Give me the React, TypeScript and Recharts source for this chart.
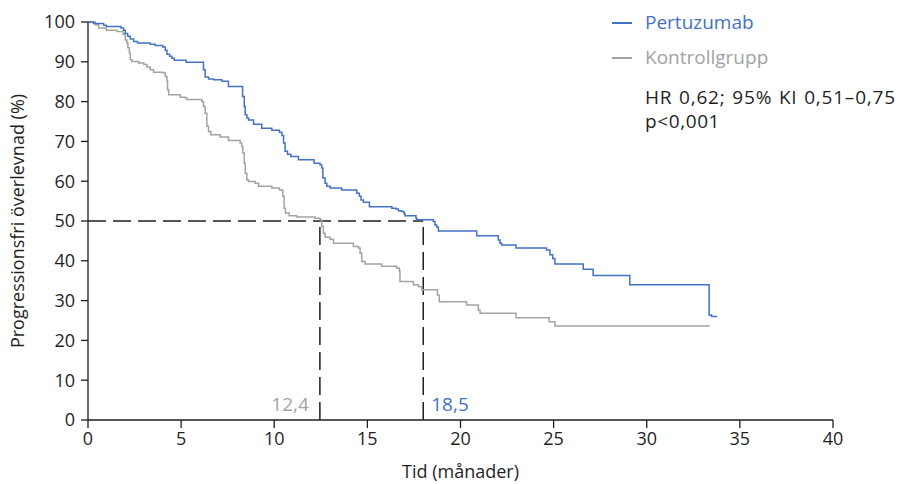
import * as React from "react";
import {Label, Line, LineChart, ReferenceLine, XAxis, YAxis} from "recharts";

// Kaplan-Meier steps: [months, % progression free]
const pertuzumab: [number, number][] = [
    [0, 100], [0.30, 99.6], [0.84, 99.2], [0.98, 98.9], [1.77, 98.5], [1.91, 97.9], [2.00, 97.1],
    [2.13, 96.4], [2.27, 95.7], [2.45, 95.1], [2.66, 94.7], [3.34, 94.4], [3.61, 94.1], [4.02, 93.7],
    [4.15, 92.9], [4.24, 91.9], [4.38, 91.4], [4.50, 90.9], [4.63, 90.4], [5.27, 89.9], [6.20, 88.0],
    [6.29, 86.2], [6.47, 85.7], [6.74, 85.5], [7.19, 85.1], [7.54, 83.8], [8.30, 81.3], [8.39, 78.8],
    [8.44, 76.7], [8.53, 75.9], [8.62, 75.4], [8.89, 74.3], [9.33, 73.3], [9.87, 72.8], [10.28, 72.3],
    [10.41, 71.5], [10.50, 69.6], [10.58, 67.5], [10.71, 66.8], [10.89, 66.2], [11.30, 65.4],
    [12.14, 64.5], [12.46, 64.1], [12.55, 63.3], [12.61, 60.8], [12.73, 59.5], [12.82, 58.7],
    [13.00, 58.3], [13.62, 57.8], [14.43, 57.0], [14.57, 56.2], [14.66, 55.3], [14.79, 54.7],
    [15.11, 53.6], [16.31, 53.2], [16.54, 53.0], [16.66, 52.6], [16.84, 52.4], [16.97, 51.8],
    [17.02, 51.3], [17.61, 50.7], [17.65, 50.3], [18.54, 49.9], [18.63, 49.0], [18.72, 48.5],
    [18.81, 47.5], [20.87, 46.3], [22.03, 45.2], [22.12, 44.4], [22.21, 44.0], [22.98, 43.2],
    [24.62, 42.7], [24.80, 41.5], [24.95, 40.6], [25.07, 39.2], [26.59, 37.9], [27.12, 36.3],
    [29.09, 34.0], [33.35, 26.4], [33.48, 26.0], [33.78, 26.0],
];

const kontroll: [number, number][] = [
    [0, 100], [0.39, 99.3], [0.57, 98.5], [0.98, 97.9], [1.55, 97.6], [1.88, 96.9], [2.00, 95.5],
    [2.09, 94.7], [2.14, 93.5], [2.22, 92.2], [2.27, 90.5], [2.36, 90.1], [2.72, 89.7], [3.00, 89.3],
    [3.16, 88.7], [3.34, 88.0], [3.52, 87.4], [4.02, 87.2], [4.15, 86.3], [4.24, 85.1], [4.27, 83.0],
    [4.33, 81.7], [4.95, 81.1], [5.22, 80.9], [5.31, 80.5], [6.11, 80.0], [6.20, 78.8], [6.29, 77.1],
    [6.38, 73.8], [6.47, 72.5], [6.60, 71.7], [7.10, 71.1], [7.54, 70.2], [8.17, 69.6], [8.26, 68.7],
    [8.31, 67.1], [8.39, 64.5], [8.44, 62.0], [8.53, 60.3], [8.62, 59.9], [8.98, 59.5], [9.16, 58.7],
    [9.87, 58.3], [10.28, 57.8], [10.41, 57.7], [10.46, 56.2], [10.53, 53.2], [10.60, 52.0],
    [10.80, 51.3], [11.20, 51.0], [12.19, 50.7], [12.46, 50.3], [12.55, 48.6], [12.64, 46.9],
    [12.73, 45.9], [13.00, 45.4], [13.18, 44.4], [14.25, 43.6], [14.52, 43.2], [14.61, 41.9],
    [14.70, 39.8], [14.88, 39.2], [15.77, 38.6], [16.57, 38.2], [16.72, 37.4], [16.75, 34.8],
    [17.47, 34.0], [17.74, 33.5], [17.92, 32.7], [18.76, 31.4], [18.86, 29.7], [20.33, 28.9],
    [20.96, 27.6], [21.05, 26.8], [22.98, 25.7], [24.76, 24.7], [25.07, 23.6], [33.38, 23.6],
];

const xTicks = [0, 5, 10, 15, 20, 25, 30, 35, 40];
const yTicks = [0, 10, 20, 30, 40, 50, 60, 70, 80, 90, 100];
const medianLevel = 50;
const medianX = [12.45, 18.0];
const medianLabels = ["12,4", "18,5"];

const BLUE = "#4472c4";
const GRAY = "#a3a3a3";
const INK = "#1f1f1f";
const FONT = "'Open Sans', 'Noto Sans', sans-serif";

const toRows = (pts: [number, number][]) => pts.map(([x, y]) => ({x, y}));

const YTitle = (props: any) => {
    const vb = props.viewBox;
    const cx = vb.x + 17;
    const cy = vb.y + vb.height / 2;
    return (
        <text x={cx} y={cy} transform={`rotate(-90 ${cx} ${cy})`} textAnchor="middle"
              dominantBaseline="central" fill={INK} fontSize={18} fontFamily={FONT}>
            Progressionsfri överlevnad (%)
        </text>
    );
};

const medianLabel = (text: string, color: string, side: "left" | "right") => (props: any) => {
    const vb = props.viewBox;
    const x = side === "left" ? vb.x - 11 : vb.x + 8;
    return (
        <text x={x} y={vb.y + vb.height - 16} textAnchor={side === "left" ? "end" : "start"}
              dominantBaseline="central" fill={color} fontSize={19} fontFamily={FONT}>
            {text}
        </text>
    );
};

export default function App() {
    const tickStyle = {fill: INK, fontSize: 18, fontFamily: FONT};
    return (
        <div style={{position: "absolute", left: 0, top: 0, width: 902, height: 484, background: "#fff", fontFamily: FONT}}>
            <LineChart width={902} height={484} margin={{top: 22, right: 69, bottom: 0, left: 0}}>
                <XAxis type="number" dataKey="x" domain={[0, 40]} ticks={xTicks} interval={0}
                       height={64} tickSize={8} tickMargin={4} tick={tickStyle}
                       stroke={INK} strokeWidth={1.3} allowDuplicatedCategory={false}>
                    <Label value="Tid (månader)" position="insideBottom" offset={6}
                           fill={INK} fontSize={18} fontFamily={FONT}/>
                </XAxis>
                <YAxis type="number" dataKey="y" domain={[0, 100]} ticks={yTicks} interval={0}
                       width={88} tickSize={7} tickMargin={6} tick={tickStyle}
                       stroke={INK} strokeWidth={1.3}>
                    <Label content={<YTitle/>}/>
                </YAxis>
                <ReferenceLine segment={[{x: 0, y: medianLevel}, {x: medianX[1], y: medianLevel}]}
                               stroke={INK} strokeWidth={1.5} strokeDasharray="18 7"/>
                <ReferenceLine segment={[{x: medianX[0], y: 0}, {x: medianX[0], y: medianLevel}]}
                               stroke={INK} strokeWidth={1.5} strokeDasharray="18 7"
                               label={medianLabel(medianLabels[0], GRAY, "left")}/>
                <ReferenceLine segment={[{x: medianX[1], y: 0}, {x: medianX[1], y: medianLevel}]}
                               stroke={INK} strokeWidth={1.5} strokeDasharray="18 7"
                               label={medianLabel(medianLabels[1], BLUE, "right")}/>
                <Line data={toRows(kontroll)} dataKey="y" type="stepAfter" stroke={GRAY} strokeWidth={1.5}
                      dot={false} isAnimationActive={false}/>
                <Line data={toRows(pertuzumab)} dataKey="y" type="stepAfter" stroke={BLUE} strokeWidth={1.5}
                      dot={false} isAnimationActive={false}/>
            </LineChart>

            <div style={{position: "absolute", left: 612, top: 22, width: 20, height: 1.5, background: BLUE}}/>
            <div style={{position: "absolute", left: 645, top: 10, fontSize: 19, lineHeight: "24px", color: BLUE}}>Pertuzumab</div>
            <div style={{position: "absolute", left: 612, top: 57, width: 20, height: 1.5, background: GRAY}}/>
            <div style={{position: "absolute", left: 645, top: 45, fontSize: 19, lineHeight: "24px", color: GRAY}}>Kontrollgrupp</div>
            <div style={{position: "absolute", left: 645, top: 85, fontSize: 19, lineHeight: "24px", color: INK,
                whiteSpace: "nowrap", letterSpacing: 0.8, wordSpacing: 1}}>
                HR 0,62; 95% KI 0,51–0,75
            </div>
            <div style={{position: "absolute", left: 645, top: 109, fontSize: 19, lineHeight: "24px", color: INK,
                whiteSpace: "nowrap", letterSpacing: 0.6}}>
                p&lt;0,001
            </div>
        </div>
    );
}
